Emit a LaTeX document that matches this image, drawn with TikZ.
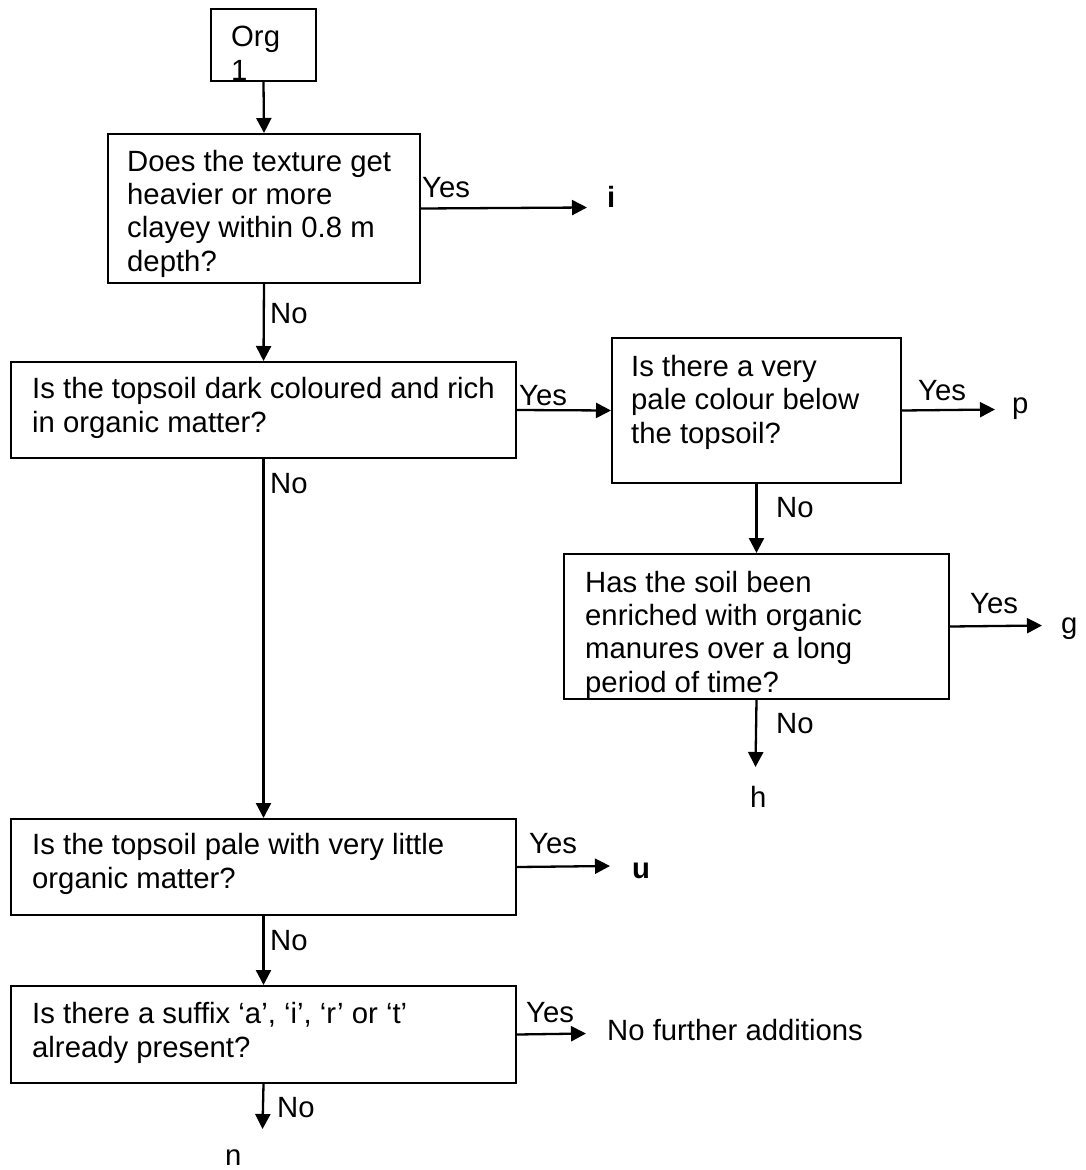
\documentclass[tikz,border=0pt]{standalone}
\usepackage{fontspec}
\setmainfont{Liberation Sans}
\usetikzlibrary{arrows.meta,calc}
\begin{document}
\begin{tikzpicture}[x=1pt,y=-1pt,
  box/.style={draw,line width=2pt,rectangle,inner sep=0pt,anchor=north west},
  txt/.style={inner sep=0pt,anchor=base west,align=left,font=\fontsize{29.3}{33.3}\selectfont},
  arr/.style={line width=2.3pt,-{Triangle[length=15pt,width=15pt]}}]
\useasboundingbox (0,0) rectangle (1086,1170);
% boxes
\node[box,minimum width=105pt,minimum height=72pt] (b0) at (210,8) {};
\node[box,minimum width=312pt,minimum height=149pt] (b1) at (107,133) {};
\node[box,minimum width=505pt,minimum height=96pt] (b2) at (10,361) {};
\node[box,minimum width=289pt,minimum height=145pt] (b3) at (611,337) {};
\node[box,minimum width=385pt,minimum height=145pt] (b4) at (563,553) {};
\node[box,minimum width=505pt,minimum height=96pt] (b5) at (10,818) {};
\node[box,minimum width=505pt,minimum height=97pt] (b6) at (10,985) {};
% box texts (anchor = baseline of last line)
\node[txt] (t0) at (231,80) {Org\\1};
\node[txt] (t1) at (127,271) {Does the texture get\\heavier or more\\clayey within 0.8 m\\depth?};
\node[txt] (t2) at (32,432) {Is the topsoil dark coloured and rich\\in organic matter?};
\node[txt] (t3) at (631,443) {Is there a very\\pale colour below\\the topsoil?};
\node[txt] (t4) at (585,692) {Has the soil been\\enriched with organic\\manures over a long\\period of time?};
\node[txt] (t5) at (32,888) {Is the topsoil pale with very little\\organic matter?};
\node[txt] (t6) at (32,1057) {Is there a suffix ‘a’, ‘i’, ‘r’ or ‘t’\\already present?};
% terminal texts
\node[txt,font=\fontsize{29.3}{33.3}\selectfont\bfseries] (ti) at (607,207) {i};
\node[txt] (tp) at (1012,413) {p};
\node[txt] (tg) at (1061,633) {g};
\node[txt] (th) at (750,807) {h};
\node[txt,font=\fontsize{29.3}{33.3}\selectfont\bfseries] (tu) at (632,878) {u};
\node[txt] (tnf) at (607,1040) {No further additions};
\node[txt] (tn) at (225,1165) {n};
% arrow tips
\coordinate (ci) at (587,207.5);
\coordinate (cp) at (995,409.5);
\coordinate (cg) at (1042,625.5);
\coordinate (ch) at (755.5,767);
\coordinate (cu) at (610,866);
\coordinate (cnf) at (586,1033.5);
\coordinate (cn) at (262.5,1129);
% connectors
\draw[arr] (b0.south) -- (b1.north);
\draw[arr] (b1.east) -- (ci);
\draw[arr] (b1.south) -- (b2.north);
\draw[arr] (b2.east) -- (b3.west);
\draw[arr] (b3.east) -- (cp);
\draw[arr] (b3.south) -- (b4.north);
\draw[arr] (b4.east) -- (cg);
\draw[arr] (b4.south) -- (ch);
\draw[arr] (b2.south) -- (b5.north);
\draw[arr] (b5.east) -- (cu);
\draw[arr] (b5.south) -- (b6.north);
\draw[arr] (b6.east) -- (cnf);
\draw[arr] (b6.south) -- (cn);
% labels
\node[txt] (y1) at (422,197) {Yes};
\node[txt] (n1) at (270,323) {No};
\node[txt] (y2) at (519,405) {Yes};
\node[txt] (n2) at (270,493) {No};
\node[txt] (y3) at (918,400) {Yes};
\node[txt] (n3) at (776,517) {No};
\node[txt] (y4) at (970,613) {Yes};
\node[txt] (n4) at (776,733) {No};
\node[txt] (y5) at (529,853) {Yes};
\node[txt] (n5) at (270,950) {No};
\node[txt] (y6) at (526,1022) {Yes};
\node[txt] (n6) at (277,1117) {No};
\end{tikzpicture}
\end{document}
